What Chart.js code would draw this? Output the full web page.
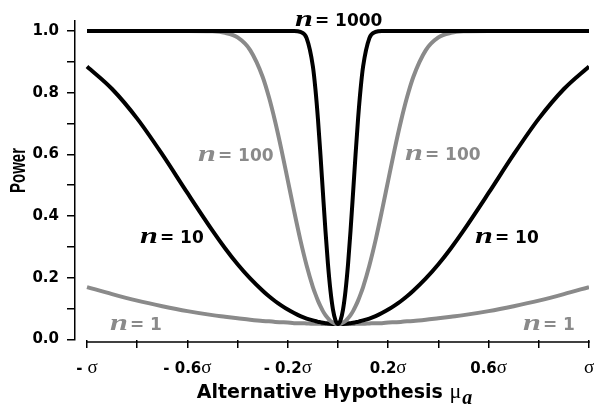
<!DOCTYPE html>
<html>
<head>
<meta charset="utf-8">
<script src="https://cdn.jsdelivr.net/npm/chart.js@4.4.1/dist/chart.umd.min.js"></script>
<style>
    html, body { margin: 0; padding: 0; background: #fff; }
    canvas { display: block; }
</style>
</head>
<body>
<canvas id="power-chart" width="594" height="409"></canvas>
<script>
// alternative mean, in units of sigma
const muValues = [
    -1, -0.9, -0.8, -0.7, -0.6, -0.5, -0.45, -0.4, -0.35, -0.3, -0.275, -0.25, -0.225, -0.2,
    -0.175, -0.15, -0.125, -0.1, -0.09, -0.08, -0.07, -0.06, -0.05, -0.04, -0.03, -0.02, -0.01,
    0,
    0.01, 0.02, 0.03, 0.04, 0.05, 0.06, 0.07, 0.08, 0.09, 0.1, 0.125, 0.15, 0.175,
    0.2, 0.225, 0.25, 0.275, 0.3, 0.35, 0.4, 0.45, 0.5, 0.6, 0.7, 0.8, 0.9, 1
];

// power, one list per sample size
const powerN1 = [
    0.170, 0.147, 0.126, 0.108, 0.092, 0.079, 0.074, 0.069, 0.064, 0.060, 0.059, 0.057, 0.056, 0.055,
    0.053, 0.053, 0.052, 0.051, 0.051, 0.051, 0.051, 0.050, 0.050, 0.050, 0.050, 0.050, 0.050,
    0.050,
    0.050, 0.050, 0.050, 0.050, 0.050, 0.050, 0.051, 0.051, 0.051, 0.051, 0.052, 0.053, 0.053,
    0.055, 0.056, 0.057, 0.059, 0.060, 0.064, 0.069, 0.074, 0.079, 0.092, 0.108, 0.126, 0.147, 0.170
];
const powerN10 = [
    0.885, 0.812, 0.716, 0.600, 0.475, 0.353, 0.296, 0.244, 0.198, 0.158, 0.140, 0.124, 0.110, 0.097,
    0.086, 0.076, 0.068, 0.062, 0.060, 0.057, 0.056, 0.054, 0.053, 0.052, 0.051, 0.050, 0.050,
    0.050,
    0.050, 0.050, 0.051, 0.052, 0.053, 0.054, 0.056, 0.057, 0.060, 0.062, 0.068, 0.076, 0.086,
    0.097, 0.110, 0.124, 0.140, 0.158, 0.198, 0.244, 0.296, 0.353, 0.475, 0.600, 0.716, 0.812, 0.885
];
const powerN100 = [
    1, 1, 1, 1, 1, 0.999, 0.994, 0.979, 0.938, 0.851, 0.785, 0.705, 0.614, 0.516,
    0.417, 0.323, 0.240, 0.170, 0.147, 0.126, 0.108, 0.092, 0.079, 0.069, 0.060, 0.055, 0.051,
    0.050,
    0.051, 0.055, 0.060, 0.069, 0.079, 0.092, 0.108, 0.126, 0.147, 0.170, 0.240, 0.323, 0.417,
    0.516, 0.614, 0.705, 0.785, 0.851, 0.938, 0.979, 0.994, 0.999, 1, 1, 1, 1, 1
];
const powerN1000 = [
    1, 1, 1, 1, 1, 1, 1, 1, 1, 1, 1, 1, 1, 1,
    1, 0.997, 0.977, 0.885, 0.812, 0.716, 0.600, 0.475, 0.353, 0.244, 0.158, 0.097, 0.062,
    0.050,
    0.062, 0.097, 0.158, 0.244, 0.353, 0.475, 0.600, 0.716, 0.812, 0.885, 0.977, 0.997, 1,
    1, 1, 1, 1, 1, 1, 1, 1, 1, 1, 1, 1, 1, 1
];

const yTicks = [0, 0.1, 0.2, 0.3, 0.4, 0.5, 0.6, 0.7, 0.8, 0.9, 1.0];
const xTicks = [-1, -0.8, -0.6, -0.4, -0.2, 0, 0.2, 0.4, 0.6, 0.8, 1];
const xLabelValues = [-1, -0.6, -0.2, 0.2, 0.6, 1];
const xLabelNumbers = ['- ', '- 0.6', '- 0.2', '0.2', '0.6', ''];

const BLACK = '#000000';
const GREY = '#8a8a8a';
const SANS = '"DejaVu Sans"';
const SERIF = '"Liberation Serif"';

const toPoints = ys => muValues.map((x, i) => ({ x: x, y: ys[i] }));

// curve labels: left edge and baseline in pixels
const curveLabels = [
    { num: '1000', x: 295, y: 25.5, color: BLACK },
    { num: '100', x: 198, y: 161, color: GREY },
    { num: '100', x: 405, y: 160, color: GREY },
    { num: '10', x: 140, y: 243, color: BLACK },
    { num: '10', x: 475, y: 243, color: BLACK },
    { num: '1', x: 110, y: 330, color: GREY },
    { num: '1', x: 523, y: 330, color: GREY }
];

function drawCurveLabel(ctx, lab) {
    ctx.fillStyle = lab.color;
    ctx.save();
    ctx.translate(lab.x, lab.y);
    ctx.scale(1.4, 1);
    ctx.font = 'italic bold 23px ' + SERIF;
    ctx.fillText('n', 0, 0);
    const nw = ctx.measureText('n').width * 1.4;
    ctx.restore();
    ctx.font = 'bold 17px ' + SANS;
    ctx.fillText('= ' + lab.num, lab.x + nw + 2, lab.y);
}

const annotations = {
    id: 'annotations',
    afterDraw(chart) {
        const ctx = chart.ctx;
        const xs = chart.scales.x;
        const y0 = 342;

        ctx.save();
        ctx.textAlign = 'left';
        ctx.textBaseline = 'alphabetic';

        // detached x axis line
        ctx.strokeStyle = BLACK;
        ctx.lineWidth = 1.5;
        ctx.beginPath();
        ctx.moveTo(xs.getPixelForValue(-1) - 0.75, y0);
        ctx.lineTo(xs.getPixelForValue(1) + 0.75, y0);
        ctx.stroke();

        // x tick labels: bold number + serif sigma
        ctx.fillStyle = BLACK;
        xLabelValues.forEach((v, i) => {
            const px = xs.getPixelForValue(v);
            ctx.font = 'bold 15px ' + SANS;
            const w1 = ctx.measureText(xLabelNumbers[i]).width;
            ctx.font = '19px ' + SERIF;
            const w2 = ctx.measureText('σ').width;
            const left = px - (w1 + w2) / 2;
            ctx.font = 'bold 15px ' + SANS;
            ctx.fillText(xLabelNumbers[i], left, 373);
            ctx.font = '19px ' + SERIF;
            ctx.fillText('σ', left + w1, 373);
        });

        // x title
        const t1 = 'Alternative Hypothesis ';
        ctx.font = 'bold 19px ' + SANS;
        const tw1 = ctx.measureText(t1).width;
        ctx.font = '22px ' + SERIF;
        const tw2 = ctx.measureText('μ').width;
        ctx.font = 'italic bold 20px ' + SERIF;
        const tw3 = ctx.measureText('a').width;
        let tx = 334 - (tw1 + tw2 + tw3) / 2;
        ctx.font = 'bold 19px ' + SANS;
        ctx.fillText(t1, tx, 398);
        ctx.font = '22px ' + SERIF;
        ctx.fillText('μ', tx + tw1, 398);
        ctx.font = 'italic bold 20px ' + SERIF;
        ctx.fillText('a', tx + tw1 + tw2 + 1, 404);

        // y title
        ctx.save();
        ctx.translate(16.5, 170.5);
        ctx.rotate(-Math.PI / 2);
        ctx.scale(1, 1.5);
        ctx.textAlign = 'center';
        ctx.font = 'bold 15px "Liberation Sans"';
        ctx.fillText('Power', 0, 5.4);
        ctx.restore();

        curveLabels.forEach(lab => drawCurveLabel(ctx, lab));
        ctx.restore();
    }
};

const lineStyle = { pointRadius: 0, borderWidth: 4, cubicInterpolationMode: 'monotone', fill: false };

new Chart(document.getElementById('power-chart'), {
    type: 'line',
    data: {
        datasets: [
            { label: 'n = 1000', data: toPoints(powerN1000), borderColor: BLACK, order: 0, ...lineStyle },
            { label: 'n = 100', data: toPoints(powerN100), borderColor: GREY, order: 1, ...lineStyle },
            { label: 'n = 10', data: toPoints(powerN10), borderColor: BLACK, order: 2, ...lineStyle },
            { label: 'n = 1', data: toPoints(powerN1), borderColor: GREY, order: 3, ...lineStyle }
        ]
    },
    options: {
        responsive: false,
        animation: false,
        layout: { padding: { top: 21, right: 5, left: 0, bottom: 0 } },
        plugins: {
            legend: { display: false },
            tooltip: { enabled: false }
        },
        scales: {
            x: {
                type: 'linear',
                min: -1.0478,
                max: 1,
                afterBuildTicks: s => { s.ticks = xTicks.map(v => ({ value: v })); },
                afterFit: s => { s.height = 69.5; },
                ticks: { display: false },
                border: { display: false },
                grid: {
                    display: true,
                    drawOnChartArea: false,
                    drawTicks: true,
                    tickLength: 8.5,
                    color: BLACK,
                    lineWidth: 1.5
                }
            },
            y: {
                type: 'linear',
                min: 0,
                max: 1.0324,
                afterBuildTicks: s => { s.ticks = yTicks.map(v => ({ value: v })); },
                afterFit: s => { s.width = 75; },
                ticks: {
                    color: BLACK,
                    padding: 8,
                    font: { family: 'DejaVu Sans', weight: 'bold', size: 15 },
                    callback: v => (Math.round(v * 10) % 2 === 0 ? v.toFixed(1) : '')
                },
                border: { display: true, color: BLACK, width: 1.5 },
                grid: {
                    display: true,
                    drawOnChartArea: false,
                    drawTicks: true,
                    tickLength: 8,
                    color: BLACK,
                    lineWidth: 1.5
                }
            }
        }
    },
    plugins: [annotations]
});
</script>
</body>
</html>
